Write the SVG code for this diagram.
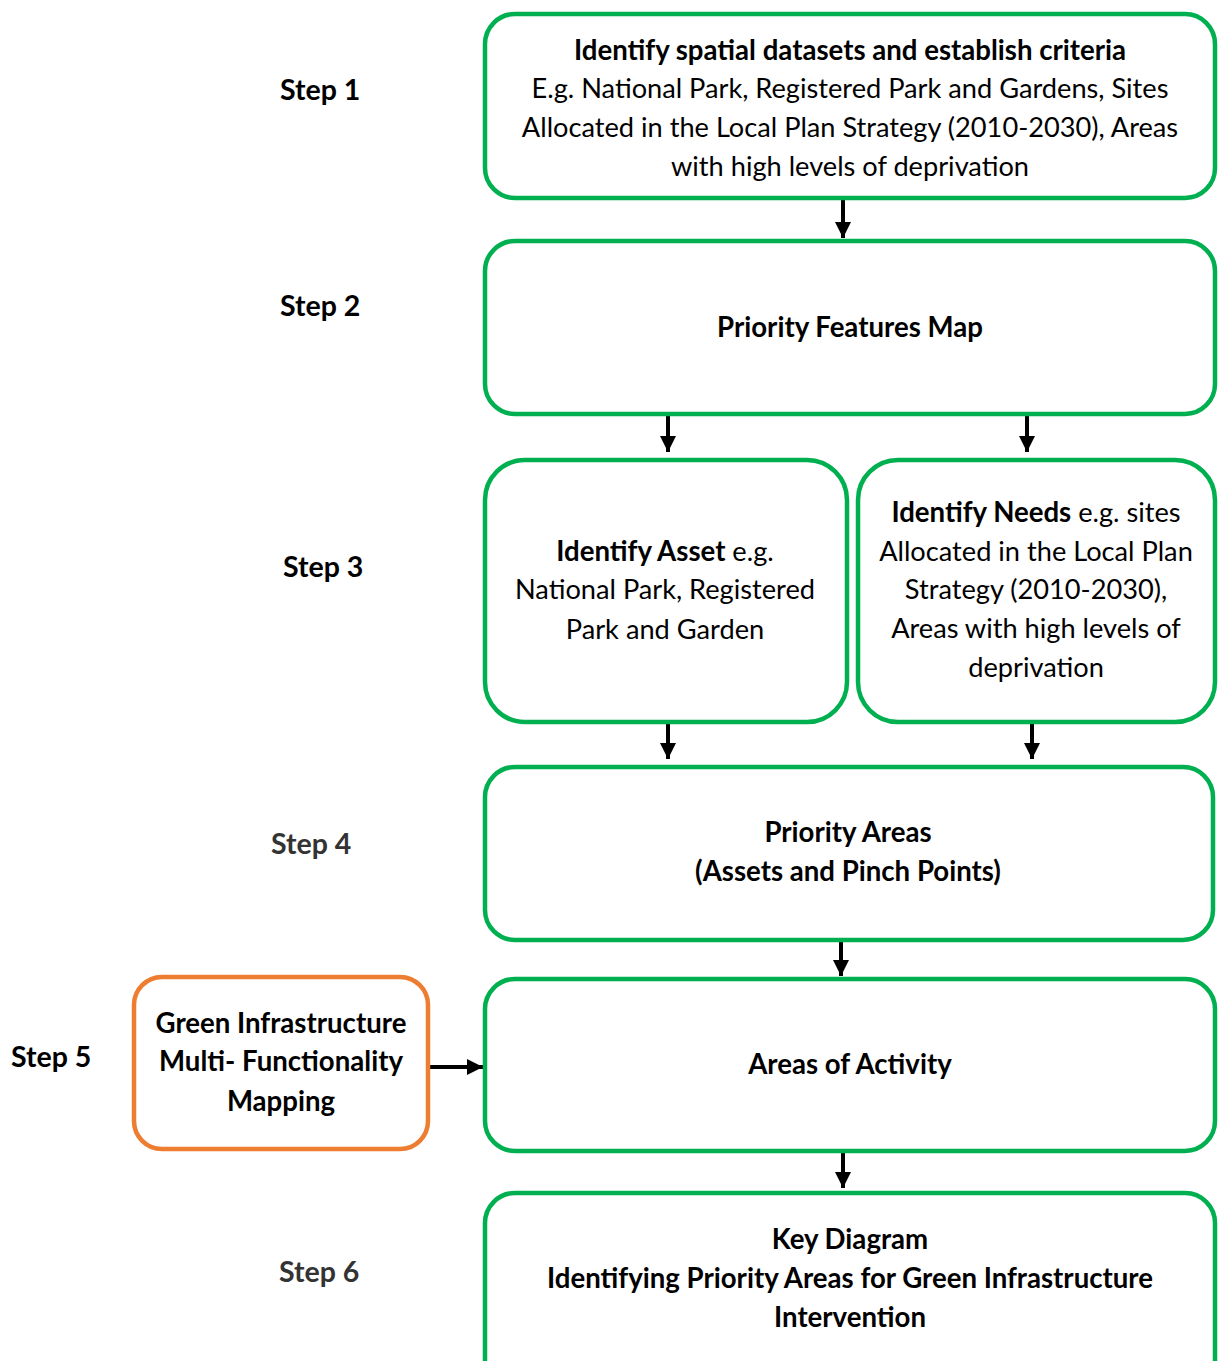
<svg xmlns="http://www.w3.org/2000/svg" width="1224" height="1361" viewBox="0 0 1224 1361">
<style>
.g{fill:#fff;stroke:#00B050;stroke-width:4.5}
.o{fill:#fff;stroke:#ED7D31;stroke-width:4.5}
text{font-family:Lato,"Open Sans",sans-serif;font-size:27.2px;fill:#000;text-anchor:middle}
.b{font-weight:bold;font-size:27.6px}
.st{font-family:Lato,sans-serif;font-weight:bold;font-size:28.5px;text-anchor:start}
.c{stroke:#000;stroke-width:4;fill:none}
</style>
<defs>
<marker id="ah" markerUnits="userSpaceOnUse" markerWidth="18" markerHeight="18" refX="16" refY="9" orient="auto">
<path d="M0,1 L16,9 L0,17 Z" fill="#000"/>
</marker>
</defs>
<rect width="1224" height="1361" fill="#fff"/>
<g id="labels">
<text class="st" x="280" y="100">Step 1</text>
<text class="st" x="280" y="316">Step 2</text>
<text class="st" x="283" y="577">Step 3</text>
<text class="st" x="271" y="854" style="fill:#333">Step 4</text>
<text class="st" x="11" y="1067">Step 5</text>
<text class="st" x="279" y="1282" style="fill:#333">Step 6</text>
</g>
<g id="connectors">
<line class="c" x1="843" y1="199" x2="843" y2="238" marker-end="url(#ah)"/>
<line class="c" x1="668" y1="415" x2="668" y2="452" marker-end="url(#ah)"/>
<line class="c" x1="1027" y1="415" x2="1027" y2="452" marker-end="url(#ah)"/>
<line class="c" x1="668" y1="723" x2="668" y2="759" marker-end="url(#ah)"/>
<line class="c" x1="1032" y1="723" x2="1032" y2="759" marker-end="url(#ah)"/>
<line class="c" x1="841" y1="941" x2="841" y2="976" marker-end="url(#ah)"/>
<line class="c" x1="843" y1="1152" x2="843" y2="1188" marker-end="url(#ah)"/>
<line class="c" x1="429" y1="1067" x2="483" y2="1067" marker-end="url(#ah)"/>
</g>
<g id="step1">
<rect class="g" x="485" y="14" width="730" height="184" rx="30"/>
<text class="b" x="850" y="60">Identify spatial datasets and establish criteria</text>
<text x="850" y="98">E.g. National Park, Registered Park and Gardens, Sites</text>
<text x="850" y="137">Allocated in the Local Plan Strategy (2010-2030), Areas</text>
<text x="850" y="176">with high levels of deprivation</text>
</g>
<g id="step2">
<rect class="g" x="485" y="241" width="730" height="173" rx="30"/>
<text class="b" x="850" y="337">Priority Features Map</text>
</g>
<g id="asset">
<rect class="g" x="485" y="460" width="362" height="262" rx="40"/>
<text x="665" y="561"><tspan class="b">Identify Asset</tspan> e.g.</text>
<text x="665" y="599">National Park, Registered</text>
<text x="665" y="639">Park and Garden</text>
</g>
<g id="needs">
<rect class="g" x="858" y="460" width="357" height="262" rx="40"/>
<text x="1036" y="522"><tspan class="b">Identify Needs</tspan> e.g. sites</text>
<text x="1036" y="561">Allocated in the Local Plan</text>
<text x="1036" y="599">Strategy (2010-2030),</text>
<text x="1036" y="638">Areas with high levels of</text>
<text x="1036" y="677">deprivation</text>
</g>
<g id="step4">
<rect class="g" x="485" y="767" width="728" height="173" rx="30"/>
<text class="b" x="848" y="842">Priority Areas</text>
<text class="b" x="848" y="881">(Assets and Pinch Points)</text>
</g>
<g id="gimap">
<rect class="o" x="134" y="977" width="294" height="172" rx="28"/>
<text class="b" x="281" y="1033">Green Infrastructure</text>
<text class="b" x="281" y="1071">Multi- Functionality</text>
<text class="b" x="281" y="1111">Mapping</text>
</g>
<g id="step5">
<rect class="g" x="485" y="979" width="730" height="172" rx="30"/>
<text class="b" x="850" y="1074">Areas of Activity</text>
</g>
<g id="step6">
<rect class="g" x="485" y="1193" width="730" height="200" rx="30"/>
<text class="b" x="850" y="1249">Key Diagram</text>
<text class="b" x="850" y="1288">Identifying Priority Areas for Green Infrastructure</text>
<text class="b" x="850" y="1327">Intervention</text>
</g>
</svg>
